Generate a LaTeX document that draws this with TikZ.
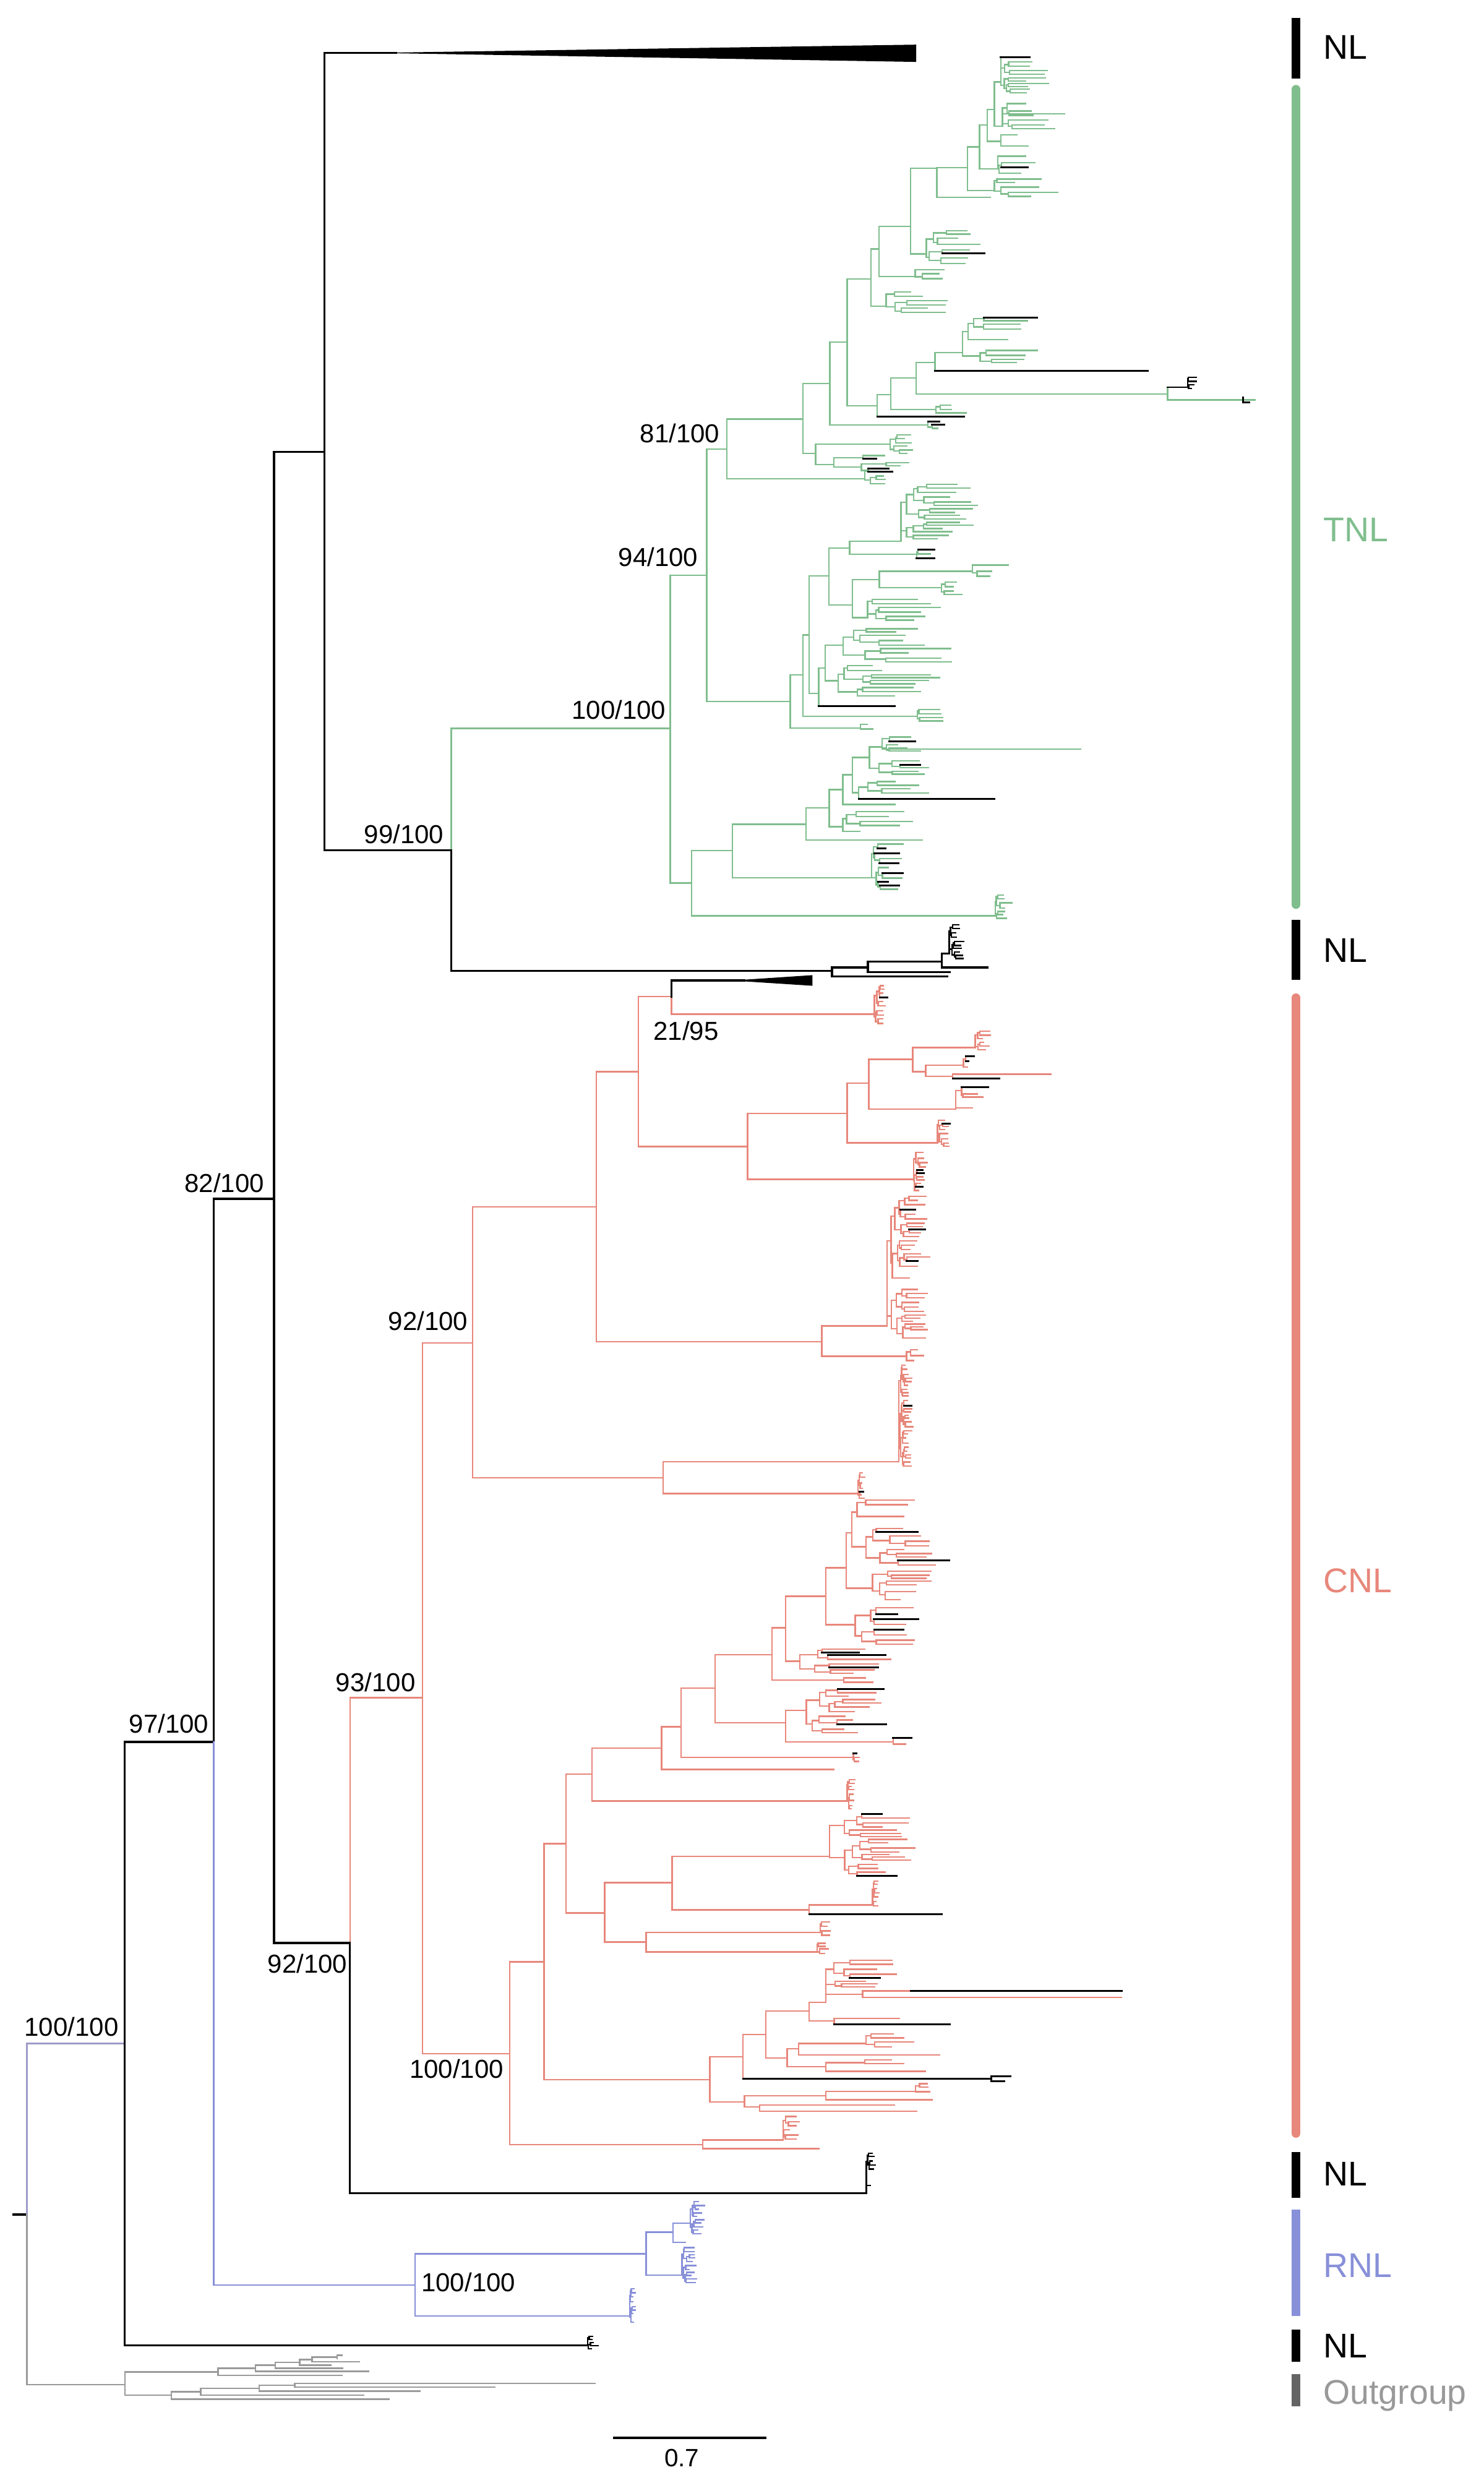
\documentclass[tikz,border=0pt]{standalone}
\usepackage{fontspec}
\setmainfont{Liberation Sans}
\usepackage{tikz}
\definecolor{tnl}{HTML}{80BE8E}
\definecolor{cnl}{HTML}{E8877B}
\definecolor{rnl}{HTML}{8890D9}
\definecolor{lav}{HTML}{9D9BC9}
\definecolor{ogline}{HTML}{9A9A9A}
\definecolor{ogbar}{HTML}{646464}
\definecolor{ogtext}{HTML}{999999}
\colorlet{clr}{black}
\tikzset{
  br/.style={draw=clr, line width=0.8pt, line cap=rect},
  bk/.style={draw=black, line width=1.1pt, line cap=rect},
  nlbr/.style={draw=black, line width=1pt, line cap=rect},
  supp/.style={font=\fontsize{14}{16}\selectfont, inner sep=0pt},
  grp/.style={font=\fontsize{18.5}{20}\selectfont, inner sep=0pt, anchor=base west},
  clbar/.style={line width=0.16cm}
}
% random sub-clades (leaf spacing, early stop, share of black NL leaves)
\def\minsep{3.6}
\def\pstop{0.05}
\def\pblack{0.06}
\newcommand{\bush}[4]{%
  \begingroup
  \pgfmathsetmacro{\bym}{(#2+#3)/2}%
  \pgfmathtruncatemacro{\bleaf}{((#4)<1) || ((#3-#2)<\minsep) || (rnd<\pstop)}%
  \ifnum\bleaf=1
    \pgfmathsetmacro{\bx}{#1+\leaflen*(0.3+0.7*rnd)}%
    \pgfmathtruncatemacro{\bblk}{rnd<\pblack}%
    \ifnum\bblk=1 \draw[nlbr] (#1,\bym) -- (\bx,\bym);%
    \else \draw[br] (#1,\bym) -- (\bx,\bym);\fi
  \else
    \pgfmathsetmacro{\bx}{#1+\stp*(0.15+0.85*rnd)}%
    \pgfmathsetmacro{\bs}{#2+(#3-#2)*(0.3+0.4*rnd)}%
    \draw[br] (#1,\bym) -- (\bx,\bym) (\bx,{(#2+\bs)/2}) -- (\bx,{(\bs+#3)/2});%
    \pgfmathtruncatemacro{\bd}{#4-1}%
    \edef\bnext{\noexpand\bush{\bx}{#2}{\bs}{\bd}\noexpand\bush{\bx}{\bs}{#3}{\bd}}%
    \bnext
  \fi
  \endgroup}
% \clade{parent x}{attach y}{root x}{y top}{y bottom}{depth}{step}{leaf length}
\newcommand{\clade}[8]{%
  \begingroup
  \def\stp{#7}\def\leaflen{#8}%
  \pgfmathsetmacro{\cs}{#4+(#5-#4)*(0.3+0.4*rnd)}%
  \pgfmathsetmacro{\cya}{min((#4+\cs)/2,#2)}%
  \pgfmathsetmacro{\cyb}{max((\cs+#5)/2,#2)}%
  \draw[br] (#1,#2) -- (#3,#2) (#3,\cya) -- (#3,\cyb);%
  \pgfmathtruncatemacro{\cd}{#6-1}%
  \edef\cnext{\noexpand\bush{#3}{#4}{\cs}{\cd}\noexpand\bush{#3}{\cs}{#5}{\cd}}%
  \cnext
  \endgroup}
% \knot{parent x}{attach y}{x}{y top}{y bottom}, \twig{parent x}{y}{tip x}
\newcommand{\knot}[6][br]{\draw[#1] (#2,#3) -- (#4,#3) (#4,#5) -- (#4,#6);}
\newcommand{\twig}[4][br]{\draw[#1] (#2,#3) -- (#4,#3);}

\begin{document}
\begin{tikzpicture}[x=0.03cm, y=-0.03cm]
  \useasboundingbox (0,0) rectangle (937,1568);
  \fill[white] (0,0) rectangle (937,1568);
  \pgfmathsetseed{2718}
  % --- backbone ---
  \draw[bk] (8.4,1398.4) -- (17,1398.4);
  \draw[line width=0.8pt, lav, line cap=rect] (17,1398.4) -- (17,1290.5) -- (78.8,1290.5);
  \draw[bk] (78.8,1100) -- (78.8,1481);
  \draw[bk] (78.8,1100) -- (135,1100) -- (135,757) -- (173,757);
  \draw[bk] (173,285.4) -- (173,1227) -- (221,1227);
  \draw[bk] (173,285.4) -- (205,285.4);
  \draw[bk] (205,33.4) -- (205,537) -- (285,537);
  % collapsed NL clade
  \draw[bk] (205,33.4) -- (250,33.4);
  \fill (235,33.4) -- (578.6,28.2) -- (578.6,39.1) -- cycle;

  % --- outgroup ---
  \colorlet{clr}{ogline}
  \draw[br] (17,1398.4) -- (17,1505.8) -- (78.8,1505.8);
  \draw[br] (78.8,1497.8) -- (78.8,1512.6);
  \knot{78.8}{1497.8}{137.7}{1495.5}{1500}
  \twig{137.7}{1500}{216}
  \knot{137.7}{1495.5}{161.3}{1493.6}{1497.5}
  \twig{161.3}{1497.5}{232.8}
  \knot{161.3}{1493.6}{173.8}{1491.7}{1495.5}
  \twig{173.8}{1495.5}{216.2}
  \knot{173.8}{1491.7}{189.2}{1490}{1493.5}
  \twig{189.2}{1493.5}{209}
  \knot{189.2}{1490}{197}{1488.5}{1491.5}
  \twig{197}{1491.5}{226.7}
  \twig{197}{1488.5}{213}
  \draw[br] (213,1487.3) -- (213,1489.5) (213,1487.3) -- (216,1487.3);
  \knot{78.8}{1512.6}{108.1}{1510.3}{1515}
  \twig{108.1}{1515}{245.5}
  \knot{108.1}{1510.3}{126.8}{1508.1}{1512.5}
  \twig{126.8}{1512.5}{229.5}
  \knot{126.8}{1508.1}{163.6}{1506.2}{1510}
  \twig{163.6}{1510}{265}
  \knot{163.6}{1506.2}{186.2}{1505}{1507.5}
  \twig{186.2}{1505}{375.8}
  \twig{186.2}{1507.5}{312.6}

  % --- NL next to outgroup ---
  \draw[bk] (78.8,1481) -- (371,1481);
  \colorlet{clr}{black}
  \clade{371}{1481}{371}{1474.4}{1484.2}{3}{1.5}{5}

  % --- RNL ---
  \colorlet{clr}{rnl}
  \draw[br] (135,1100) -- (135,1443);
  \knot{135}{1443}{262.1}{1423.2}{1462.4}
  \knot{262.1}{1423.2}{408}{1409.6}{1436.7}
  \knot{408}{1409.6}{425.1}{1403.8}{1416}
  \twig{425.1}{1416}{432.8}
  \clade{425.1}{1403.8}{436}{1389}{1412}{4}{2}{6}
  \clade{408}{1436.7}{430.7}{1418}{1443}{4}{2}{7}
  \clade{262.1}{1462.4}{397.6}{1444}{1471}{4}{1}{3}

  % --- TNL ---
  \colorlet{clr}{tnl}
  \draw[br] (285,537) -- (285,460) -- (423.3,460);
  \draw[br] (423.3,363.3) -- (423.3,557.6);
  \knot{423.3}{363.3}{446.3}{283.7}{443}
  \knot{446.3}{283.7}{459}{264.6}{302.3}
  \clade{459}{302.3}{546}{296}{307}{3}{4}{10}
  \knot{459}{264.6}{507}{242.2}{286.3}
  \knot{507}{286.3}{515}{280.4}{293.3}
  \clade{515}{280.4}{562}{274}{287}{3}{4}{14}
  \def\pblack{0.5}\clade{515}{293.3}{526.6}{287}{299}{3}{20}{18}\def\pblack{0.06}
  \knot{507}{242.2}{524}{216}{268.4}
  \def\pblack{0.6}\clade{524}{268.4}{586}{265}{272}{2}{3}{12}\def\pblack{0.06}
  \knot{524}{216}{535}{176.1}{256.2}
  \knot{535}{256.2}{554}{249.2}{263.1}
  \twig[nlbr]{554}{263.1}{608.8}
  \knot{554}{249.2}{562.4}{238.7}{258.7}
  \clade{562.4}{258.7}{591}{254}{262}{2}{4}{22}
  \knot{562.4}{238.7}{578.6}{228.8}{248.8}
  \knot{578.6}{248.8}{737.3}{244.5}{252.6}
  \twig{737.3}{252.6}{792.7}
  \draw[nlbr] (784.8,250.8) -- (784.8,254.2) -- (789,254.2);
  \colorlet{clr}{black}
  \clade{737.3}{244.5}{750}{236.6}{246.2}{2}{1}{5}
  \colorlet{clr}{tnl}
  \knot{578.6}{228.8}{590.4}{222.7}{234.3}
  \twig[nlbr]{590.4}{234.3}{725}
  \def\pblack{0.25}\clade{590.4}{222.7}{607.7}{199}{230}{4}{14}{35}\def\pblack{0.06}
  \knot{535}{176.1}{550}{157.3}{193.4}
  \def\pblack{0.25}\clade{550}{193.4}{559.5}{183}{199}{3}{12}{30}\def\pblack{0.06}
  \knot{550}{157.3}{555}{143}{174.7}
  \clade{555}{174.7}{578}{169}{178}{2}{8}{20}
  \knot{555}{143}{575}{106.2}{160.4}
  \def\pblack{0.15}\clade{575}{160.4}{585}{145}{168}{3}{10}{35}\def\pblack{0.06}
  \knot{575}{106.2}{591.6}{105.8}{124.5}
  \twig{591.6}{124.5}{625.2}
  \knot{591.6}{105.8}{611}{92.8}{120.3}
  \clade{611}{120.3}{627.9}{112}{125}{3}{6}{32}
  \knot{611}{92.8}{618.5}{78.8}{106.7}
  \clade{618.5}{106.7}{630}{96}{111}{3}{4}{26}
  \knot{618.5}{78.8}{623.4}{69.2}{89.3}
  \clade{623.4}{89.3}{632}{81}{95}{3}{4}{26}
  \knot{623.4}{69.2}{627.9}{51.8}{79.7}
  \clade{627.9}{79.7}{633}{62}{82}{3}{4}{28}
  \draw[br] (633,69) -- (633,71.8) -- (672,71.8);
  \def\pblack{0.03}\clade{627.9}{51.8}{632}{38}{60}{4}{3}{26}\def\pblack{0.06}
  \draw[br] (632,36.1) -- (632,45);
  \twig[nlbr]{632}{36.1}{650.3}
  % 94/100 lower half
  \knot{446.3}{443}{499}{426.2}{459.7}
  \clade{499}{459.7}{543.4}{455.7}{461.7}{2}{3}{8}
  \knot{499}{426.2}{507}{401}{452.3}
  \clade{507}{452.3}{579.2}{446}{456}{2}{4}{18}
  \knot{507}{401}{511}{363.7}{438}
  \knot{511}{438}{517}{421.9}{445.8}
  \twig[nlbr]{517}{445.8}{565}
  \clade{517}{421.9}{521}{396}{441}{5}{14}{45}
  \knot{511}{363.7}{523.4}{346.1}{382}
  \knot{523.4}{346.1}{536.6}{341.8}{350.1}
  \clade{536.6}{341.8}{569}{305}{341}{5}{8}{30}
  \def\pblack{0.4}\clade{536.6}{350.1}{578.8}{346}{354}{2}{3}{12}\def\pblack{0.06}
  \knot{523.4}{382}{538.4}{366}{390}
  \knot{538.4}{366}{555.3}{360.7}{371}
  \clade{555.3}{360.7}{614}{355}{365}{2}{6}{25}
  \clade{555.3}{371}{594.5}{366}{376}{2}{4}{12}
  \clade{538.4}{390}{547.9}{377}{393}{3}{8}{40}
  % lowest TNL clades
  \knot{423.3}{557.6}{436.7}{537}{578.4}
  \clade{436.7}{578.4}{628.5}{563.7}{581}{3}{3}{8}
  \knot{436.7}{537}{462.6}{520.5}{554.4}
  \def\pblack{0.45}\clade{462.6}{554.4}{550.5}{532}{562.4}{4}{4}{16}\def\pblack{0.06}
  \knot{462.6}{520.5}{509}{510.1}{530.5}
  \twig{509}{530.5}{582.2}
  \knot{509}{510.1}{523.6}{498.6}{522.1}
  \clade{523.6}{522.1}{532.2}{511.5}{527.5}{3}{14}{35}
  \knot{523.6}{498.6}{532.2}{489.2}{508}
  \twig{532.2}{508}{565}
  \knot{532.2}{489.2}{538.2}{478.3}{500.6}
  \knot{538.2}{500.6}{542.2}{497}{504.6}
  \twig[nlbr]{542.2}{504.6}{627.9}
  \clade{542.2}{497}{548}{492}{502}{2}{12}{30}
  \knot{538.2}{478.3}{549}{471.7}{485.2}
  \clade{549}{471.7}{557}{463.7}{475.6}{3}{10}{22}
  \draw[br] (557,469) -- (557,473.1) -- (682.4,473.1);
  \clade{549}{485.2}{555}{478.7}{489.6}{3}{10}{22}

  % --- NL sister of TNL ---
  \draw[bk] (285,537) -- (285,613);
  \colorlet{clr}{black}
  \knot[bk]{285}{613}{525.4}{611}{616.5}
  \twig[bk]{525.4}{616.5}{598}
  \knot[bk]{525.4}{611}{548.1}{607.3}{613.9}
  \twig[bk]{548.1}{613.9}{599.6}
  \knot[bk]{548.1}{607.3}{594.7}{602.2}{611}
  \twig[bk]{594.7}{611}{623.5}
  \clade{594.7}{602.2}{599.4}{583}{606}{4}{2}{6}

  % --- CNL ---
  \colorlet{clr}{cnl}\def\pblack{0.08}
  \draw[br] (221,1227) -- (221,1072);
  \knot{221}{1072}{266.8}{848}{1297}
  \knot{266.8}{848}{298.5}{762}{933.1}
  \knot{298.5}{933.1}{418.7}{923}{943.2}
  \clade{418.7}{923}{567.6}{861}{927}{7}{1.5}{5}
  \clade{418.7}{943.2}{541.7}{929}{947}{3}{1}{3}
  \knot{298.5}{762}{376.6}{676.8}{847.2}
  \knot{376.6}{847.2}{519}{837.3}{856.4}
  \clade{519}{856.4}{572.5}{850}{861}{2}{3}{10}
  \def\pblack{0.12}\clade{519}{837.3}{560.2}{754}{849}{7}{4}{15}\def\pblack{0.08}
  \knot{376.6}{676.8}{403.1}{629.3}{724.1}
  \draw[br] (403.1,629.3) -- (424,629.3) -- (424,640.4);
  \clade{424}{640.4}{552.2}{621}{648}{4}{2}{6}
  \knot{403.1}{724.1}{472}{703.2}{744.7}
  \clade{472}{744.7}{577}{725.5}{753.4}{5}{1.5}{5}
  \knot{472}{703.2}{535}{684}{721.7}
  \clade{535}{721.7}{592}{706}{724.7}{4}{2}{8}
  \knot{535}{684}{548.7}{668.9}{700.3}
  \clade{548.7}{700.3}{603.5}{683.7}{705.5}{4}{5}{20}
  \knot{548.7}{668.9}{576.4}{661.5}{676.7}
  \clade{576.4}{661.5}{615.8}{649.7}{664.5}{3}{2}{7}
  \knot{576.4}{676.7}{584.6}{672.7}{679.8}
  \clade{584.6}{672.7}{608.4}{666}{676}{2}{2}{6}
  \knot{584.6}{679.8}{601.6}{678.4}{681.1}
  \twig{601.6}{678.4}{663.7}
  \twig[nlbr]{601.6}{681.1}{630.9}
  % 21/95 collapsed NL
  \draw[bk] (424,629.3) -- (424,619.2) -- (470,619.2);
  \fill (462,619.2) -- (513,615.8) -- (513,622.5) -- cycle;
  % 100/100 lower CNL
  \knot{266.8}{1297}{321.8}{1238.8}{1354.2}
  \knot{321.8}{1354.2}{443.8}{1351.4}{1356.8}
  \twig{443.8}{1356.8}{517.3}
  \clade{443.8}{1351.4}{494.6}{1335}{1352}{4}{2}{8}
  \knot{321.8}{1238.8}{343.6}{1164.2}{1313.2}
  \knot{343.6}{1313.2}{448.2}{1298.9}{1327.3}
  \knot{448.2}{1327.3}{470.1}{1323.4}{1330.5}
  \knot{470.1}{1330.5}{479.6}{1329.2}{1333.2}
  \twig{479.6}{1329.2}{564.8}
  \twig{479.6}{1333.2}{578.9}
  \knot{470.1}{1323.4}{521.5}{1320.8}{1326}
  \twig{521.5}{1326}{588.7}
  \clade{521.5}{1320.8}{578.2}{1315}{1322.5}{2}{4}{10}
  \knot{448.2}{1298.9}{469.2}{1284.7}{1312.7}
  \twig[nlbr]{469.2}{1312.7}{626}
  \draw[nlbr] (626,1311) -- (626,1314.3) (626,1311) -- (638,1311) (626,1314.3) -- (634,1314.3);
  \knot{469.2}{1284.7}{483.5}{1270}{1299.7}
  \knot{483.5}{1299.7}{497}{1293.7}{1305.2}
  \knot{497}{1293.7}{504.4}{1290.5}{1297.6}
  \twig{504.4}{1297.6}{593.2}
  \clade{504.4}{1290.5}{546.9}{1283}{1294.4}{3}{6}{25}
  \knot{497}{1305.2}{521.5}{1302.6}{1308}
  \twig{521.5}{1308}{584.2}
  \clade{521.5}{1302.6}{546}{1299.5}{1304}{1}{4}{25}
  \knot{483.5}{1270}{511}{1264.4}{1276.1}
  \knot{511}{1276.1}{526.8}{1274.6}{1278.2}
  \twig{526.8}{1274.6}{567.8}
  \twig[nlbr]{526.8}{1278.2}{599.8}
  \clade{511}{1264.4}{521.5}{1237}{1256}{5}{10}{30}
  \draw[br] (521.5,1259.4) -- (544.8,1259.4) (544.8,1257.3) -- (544.8,1261.4);
  \twig{544.8}{1261.4}{708.3}
  \draw[br] (544.8,1257.3) -- (575.3,1257.3);
  \twig[nlbr]{575.3}{1257.3}{708.3}
  \knot{343.6}{1164.2}{357.5}{1120.3}{1208}
  \knot{357.5}{1208}{381.9}{1188.9}{1226.4}
  \knot{381.9}{1226.4}{408}{1220.4}{1232.7}
  \clade{408}{1220.4}{517.9}{1212}{1223}{2}{2}{6}
  \clade{408}{1232.7}{516}{1226}{1235.5}{2}{2}{6}
  \knot{381.9}{1188.9}{424.4}{1172.2}{1206}
  \knot{424.4}{1206}{511}{1203}{1208.8}
  \twig[nlbr]{511}{1208.8}{594.6}
  \clade{511}{1203}{551}{1187}{1205}{4}{1}{3}
  \clade{424.4}{1172.2}{523.8}{1144.7}{1185.5}{5}{12}{30}
  \knot{357.5}{1120.3}{373.9}{1103.8}{1137.3}
  \clade{373.9}{1137.3}{535}{1123}{1143}{4}{1}{4}
  \knot{373.9}{1103.8}{417.8}{1090.4}{1117.4}
  \twig{417.8}{1117.4}{526.6}
  \knot{417.8}{1090.4}{430}{1066}{1109.8}
  \clade{430}{1109.8}{538.8}{1105.8}{1113.8}{2}{1}{4}
  \knot{430}{1066}{451.6}{1045}{1088}
  \knot{451.6}{1088}{496}{1080}{1100}
  \def\pblack{0.5}\clade{496}{1100}{564}{1096}{1104}{1}{3}{22}\def\pblack{0.08}
  \clade{496}{1080}{509.2}{1065}{1095}{5}{12}{32}
  \knot{451.6}{1045}{487.5}{1028}{1061}
  \clade{487.5}{1061}{532.9}{1058.5}{1064}{1}{4}{20}
  \knot{487.5}{1028}{496}{1008}{1049}
  \def\pblack{0.35}\clade{496}{1049}{505}{1040}{1058}{3}{12}{40}\def\pblack{0.08}
  \knot{496}{1008}{521.4}{990}{1026}
  \def\pblack{0.3}\clade{521.4}{1026}{540}{1013}{1039}{3}{10}{35}\def\pblack{0.08}
  \knot{521.4}{990}{534.3}{968}{1003}
  \clade{534.3}{1003}{551}{991}{1012}{3}{10}{30}
  \clade{534.3}{968}{537.8}{946}{990}{6}{12}{34}

  % --- NL sister of CNL ---
  \draw[bk] (221,1227) -- (221,1385) -- (547,1385);
  \colorlet{clr}{black}
  \clade{547}{1385}{547}{1359}{1389}{5}{1}{4}

  % --- support values ---
  \node[supp, anchor=base east] (b81)  at (454.6,279.5)  {81/100};
  \node[supp, anchor=base east] (b94)  at (440.9,357.8)  {94/100};
  \node[supp, anchor=base east] (b100t) at (420.6,454.3) {100/100};
  \node[supp, anchor=base east] (b99)  at (280.4,532.7)  {99/100};
  \node[supp, anchor=base west] (b21)  at (412.5,657)    {21/95};
  \node[supp, anchor=base east] (b82)  at (167,753)      {82/100};
  \node[supp, anchor=base east] (b92u) at (295.6,840)    {92/100};
  \node[supp, anchor=base east] (b93)  at (262.5,1068)   {93/100};
  \node[supp, anchor=base east] (b97)  at (132,1094.5)   {97/100};
  \node[supp, anchor=base east] (b92l) at (219.5,1246)   {92/100};
  \node[supp, anchor=base east] (b100r) at (75,1285.6)   {100/100};
  \node[supp, anchor=base east] (b100c) at (318.2,1312.4) {100/100};
  \node[supp, anchor=base west] (b100p) at (265.9,1447)  {100/100};

  % --- group bars and names ---
  \draw[clbar, black] (818.4,11.3) -- (818.4,49.7);
  \draw[clbar, tnl, line cap=round] (818.4,56.3) -- (818.4,571.3);
  \draw[clbar, black] (818.4,580.8) -- (818.4,618.7);
  \draw[clbar, cnl, line cap=round] (818.4,630) -- (818.4,1347.3);
  \draw[clbar, black] (818.4,1359) -- (818.4,1387.8);
  \draw[clbar, rnl] (818.4,1395.5) -- (818.4,1462.7);
  \draw[clbar, black] (818.4,1471) -- (818.4,1491.4);
  \draw[clbar, ogbar] (818.4,1499.3) -- (818.4,1519.4);
  \node[grp] (g1) at (835.5,37.4)   {NL};
  \node[grp, text=tnl] (g2) at (835.5,341.8) {TNL};
  \node[grp] (g3) at (835.5,607.8)  {NL};
  \node[grp, text=cnl] (g4) at (835.5,1005.8) {CNL};
  \node[grp] (g5) at (835.5,1380.2) {NL};
  \node[grp, text=rnl] (g6) at (835.5,1438.2) {RNL};
  \node[grp] (g7) at (835.5,1488.8) {NL};
  \node[grp, text=ogtext] (g8) at (835.5,1518.2) {Outgroup};

  % --- scale ---
  \draw[line width=1.1pt] (387.3,1539.5) coordinate (sa) -- (484,1539.5) coordinate (sb);
  \node[font=\fontsize{13.5}{15}\selectfont, inner sep=0pt, anchor=base] (sc) at (430.6,1557.7) {0.7};
\end{tikzpicture}
\end{document}
